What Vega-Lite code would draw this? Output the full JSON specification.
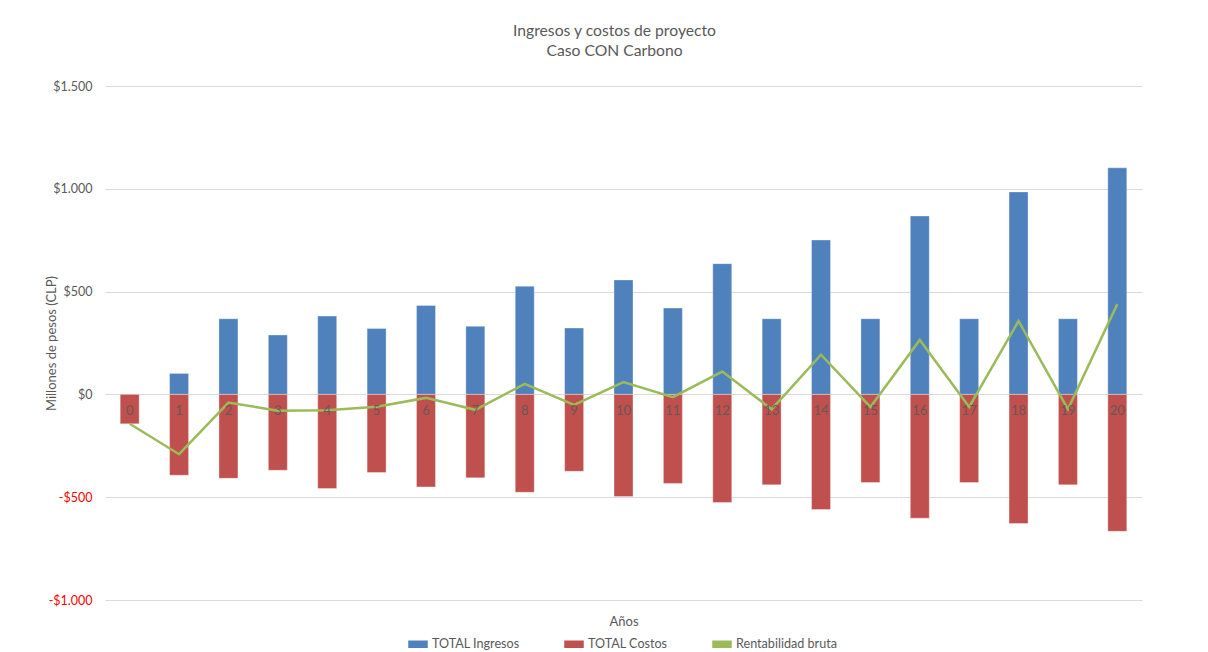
{
  "$schema": "https://vega.github.io/schema/vega-lite/v6.json",
  "width": 1037,
  "height": 514,
  "autosize": {"type": "none"},
  "padding": {"left": 105, "top": 86, "right": 66, "bottom": 52},
  "background": "white",
  "title": {
    "text": ["Ingresos y costos de proyecto", "Caso CON Carbono"],
    "font": "Lato",
    "fontSize": 15.7,
    "fontWeight": "normal",
    "color": "#595959",
    "lineHeight": 20,
    "anchor": "middle",
    "frame": "group",
    "dx": -9,
    "offset": 20
  },
  "data": {
    "values": [
      {"year": 0, "serie": "TOTAL Costos", "valor": -143},
      {"year": 1, "serie": "TOTAL Ingresos", "valor": 102},
      {"year": 1, "serie": "TOTAL Costos", "valor": -393},
      {"year": 2, "serie": "TOTAL Ingresos", "valor": 368},
      {"year": 2, "serie": "TOTAL Costos", "valor": -408},
      {"year": 3, "serie": "TOTAL Ingresos", "valor": 289},
      {"year": 3, "serie": "TOTAL Costos", "valor": -369},
      {"year": 4, "serie": "TOTAL Ingresos", "valor": 381},
      {"year": 4, "serie": "TOTAL Costos", "valor": -458},
      {"year": 5, "serie": "TOTAL Ingresos", "valor": 320},
      {"year": 5, "serie": "TOTAL Costos", "valor": -380},
      {"year": 6, "serie": "TOTAL Ingresos", "valor": 433},
      {"year": 6, "serie": "TOTAL Costos", "valor": -450},
      {"year": 7, "serie": "TOTAL Ingresos", "valor": 331},
      {"year": 7, "serie": "TOTAL Costos", "valor": -406},
      {"year": 8, "serie": "TOTAL Ingresos", "valor": 526},
      {"year": 8, "serie": "TOTAL Costos", "valor": -476},
      {"year": 9, "serie": "TOTAL Ingresos", "valor": 323},
      {"year": 9, "serie": "TOTAL Costos", "valor": -374},
      {"year": 10, "serie": "TOTAL Ingresos", "valor": 557},
      {"year": 10, "serie": "TOTAL Costos", "valor": -497},
      {"year": 11, "serie": "TOTAL Ingresos", "valor": 420},
      {"year": 11, "serie": "TOTAL Costos", "valor": -433},
      {"year": 12, "serie": "TOTAL Ingresos", "valor": 636},
      {"year": 12, "serie": "TOTAL Costos", "valor": -526},
      {"year": 13, "serie": "TOTAL Ingresos", "valor": 368},
      {"year": 13, "serie": "TOTAL Costos", "valor": -440},
      {"year": 14, "serie": "TOTAL Ingresos", "valor": 751},
      {"year": 14, "serie": "TOTAL Costos", "valor": -560},
      {"year": 15, "serie": "TOTAL Ingresos", "valor": 368},
      {"year": 15, "serie": "TOTAL Costos", "valor": -429},
      {"year": 16, "serie": "TOTAL Ingresos", "valor": 868},
      {"year": 16, "serie": "TOTAL Costos", "valor": -602},
      {"year": 17, "serie": "TOTAL Ingresos", "valor": 368},
      {"year": 17, "serie": "TOTAL Costos", "valor": -429},
      {"year": 18, "serie": "TOTAL Ingresos", "valor": 985},
      {"year": 18, "serie": "TOTAL Costos", "valor": -628},
      {"year": 19, "serie": "TOTAL Ingresos", "valor": 368},
      {"year": 19, "serie": "TOTAL Costos", "valor": -440},
      {"year": 20, "serie": "TOTAL Ingresos", "valor": 1102},
      {"year": 20, "serie": "TOTAL Costos", "valor": -666},
      {"year": 0, "serie": "Rentabilidad bruta", "valor": -143},
      {"year": 1, "serie": "Rentabilidad bruta", "valor": -291},
      {"year": 2, "serie": "Rentabilidad bruta", "valor": -40},
      {"year": 3, "serie": "Rentabilidad bruta", "valor": -79},
      {"year": 4, "serie": "Rentabilidad bruta", "valor": -77},
      {"year": 5, "serie": "Rentabilidad bruta", "valor": -60},
      {"year": 6, "serie": "Rentabilidad bruta", "valor": -17},
      {"year": 7, "serie": "Rentabilidad bruta", "valor": -75},
      {"year": 8, "serie": "Rentabilidad bruta", "valor": 51},
      {"year": 9, "serie": "Rentabilidad bruta", "valor": -51},
      {"year": 10, "serie": "Rentabilidad bruta", "valor": 60},
      {"year": 11, "serie": "Rentabilidad bruta", "valor": -13},
      {"year": 12, "serie": "Rentabilidad bruta", "valor": 111},
      {"year": 13, "serie": "Rentabilidad bruta", "valor": -72},
      {"year": 14, "serie": "Rentabilidad bruta", "valor": 193},
      {"year": 15, "serie": "Rentabilidad bruta", "valor": -61},
      {"year": 16, "serie": "Rentabilidad bruta", "valor": 265},
      {"year": 17, "serie": "Rentabilidad bruta", "valor": -61},
      {"year": 18, "serie": "Rentabilidad bruta", "valor": 357},
      {"year": 19, "serie": "Rentabilidad bruta", "valor": -72},
      {"year": 20, "serie": "Rentabilidad bruta", "valor": 439}
    ]
  },
  "encoding": {
    "x": {
      "field": "year",
      "type": "ordinal",
      "scale": {"paddingInner": 0, "paddingOuter": 0},
      "axis": {
        "labels": false,
        "ticks": false,
        "domain": false,
        "grid": false,
        "title": "Años",
        "titleFont": "Lato",
        "titleFontSize": 13,
        "titleFontWeight": "normal",
        "titleColor": "#595959",
        "titlePadding": 15
      }
    }
  },
  "layer": [
    {
      "transform": [{"filter": "datum.serie !== 'Rentabilidad bruta'"}],
      "mark": {"type": "bar", "size": 19, "stroke": "#ffffff", "strokeOpacity": 0.35, "strokeWidth": 1},
      "encoding": {
        "y": {
          "field": "valor",
          "type": "quantitative",
          "stack": null,
          "scale": {"domain": [-1000, 1500], "nice": false},
          "axis": {
            "values": [-1000, -500, 0, 500, 1000, 1500],
            "labelExpr": "(datum.value < 0 ? '-$' : '$') + replace(format(abs(datum.value), ','), ',', '.')",
            "labelColor": {"condition": {"test": "datum.value < 0", "value": "#FF0000"}, "value": "#595959"},
            "labelFont": "Lato",
            "labelFontSize": 12.5,
            "labelPadding": 13,
            "ticks": false,
            "domain": false,
            "gridColor": "#D9D9D9",
            "gridWidth": 1,
            "title": "Millones de pesos (CLP)",
            "titleFont": "Lato",
            "titleFontSize": 13,
            "titleFontWeight": "normal",
            "titleColor": "#595959",
            "titlePadding": -10
          }
        },
        "color": {
          "field": "serie",
          "type": "nominal",
          "scale": {
            "domain": ["TOTAL Ingresos", "TOTAL Costos", "Rentabilidad bruta"],
            "range": ["#4F81BD", "#C0504D", "#9BBB59"]
          },
          "legend": {
            "title": null,
            "orient": "none",
            "direction": "horizontal",
            "legendX": 303,
            "legendY": 548,
            "columnPadding": 42,
            "labelFont": "Lato",
            "labelFontSize": 12.6,
            "labelColor": "#595959",
            "labelOffset": 4,
            "symbolSize": 324,
            "symbolType": "M-1,-0.33H1V0.33H-1Z",
            "encode": {
              "symbols": {
                "update": {
                  "shape": [
                    {"test": "datum.value === 'Rentabilidad bruta'", "value": "M-1,0H1"},
                    {"value": "M-1,-0.33H1V0.33H-1Z"}
                  ],
                  "fill": [
                    {"test": "datum.value === 'TOTAL Ingresos'", "value": "#4F81BD"},
                    {"test": "datum.value === 'TOTAL Costos'", "value": "#C0504D"},
                    {"value": "transparent"}
                  ],
                  "stroke": [
                    {"test": "datum.value === 'Rentabilidad bruta'", "value": "#9BBB59"},
                    {"value": "transparent"}
                  ],
                  "strokeWidth": {"value": 2.5},
                  "opacity": {"value": 1}
                }
              }
            }
          }
        }
      }
    },
    {
      "transform": [{"filter": "datum.serie === 'Rentabilidad bruta'"}],
      "mark": {"type": "line", "strokeWidth": 2.5},
      "encoding": {
        "y": {"field": "valor", "type": "quantitative"},
        "color": {"field": "serie", "type": "nominal"}
      }
    },
    {
      "transform": [{"filter": "datum.serie === 'TOTAL Costos'"}],
      "mark": {"type": "text", "font": "Lato", "fontSize": 13, "color": "#595959", "opacity": 0.85, "baseline": "middle", "dy": 17},
      "encoding": {
        "y": {"datum": 0},
        "text": {"field": "year", "type": "nominal"}
      }
    }
  ],
  "config": {
    "view": {"stroke": null},
    "font": "Lato"
  }
}
